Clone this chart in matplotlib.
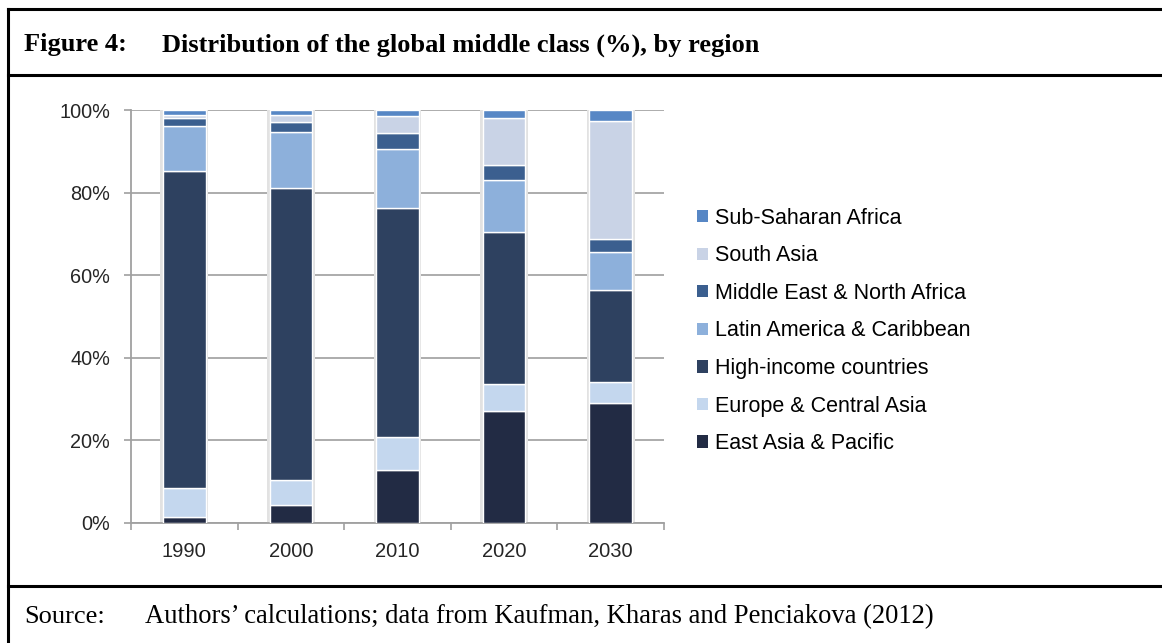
import matplotlib.pyplot as plt
import numpy as np
from matplotlib.lines import Line2D
from matplotlib.patches import Patch

# Data (percent of the global middle class)
YEARS = ["1990", "2000", "2010", "2020", "2030"]
REGIONS = [
    "East Asia & Pacific",
    "Europe & Central Asia",
    "High-income countries",
    "Latin America & Caribbean",
    "Middle East & North Africa",
    "South Asia",
    "Sub-Saharan Africa",
]
EAST_ASIA = [1.4, 4.4, 12.8, 27.1, 29.1]
EUROPE_CA = [7.1, 6.0, 8.1, 6.6, 5.1]
HIGH_INCOME = [76.7, 70.7, 55.3, 36.8, 22.1]
LATIN_AMERICA = [11.0, 13.6, 14.4, 12.6, 9.4]
MENA = [1.9, 2.3, 3.9, 3.7, 3.1]
SOUTH_ASIA = [0.8, 1.8, 4.1, 11.3, 28.5]
SUB_SAHARAN = [1.1, 1.2, 1.4, 1.9, 2.7]

COLORS = ["#222B44", "#C4D7EE", "#2E4160", "#8DB0DB", "#3B5F8F", "#C9D3E6", "#5787C5"]

W, H = 1162, 643
SANS = "Liberation Sans"
SERIF = "Liberation Serif"

series = [EAST_ASIA, EUROPE_CA, HIGH_INCOME, LATIN_AMERICA, MENA, SOUTH_ASIA, SUB_SAHARAN]

fig = plt.figure(figsize=(W / 100, H / 100), dpi=100)
ax = fig.add_axes([131 / W, 1 - 523 / H, 533 / W, 413 / H])

x = np.arange(len(YEARS))
bar_w = 0.40

# faint shadow behind each stacked bar
totals = np.sum(np.array(series), axis=0)
ax.bar(x, totals + 0.6, width=bar_w + 0.05, color="#E2E2E2", zorder=2, linewidth=0)

bottom = np.zeros(len(YEARS))
for vals, color in zip(series, COLORS):
    ax.bar(x, vals, bottom=bottom, width=bar_w, color=color,
           edgecolor="white", linewidth=1.0, zorder=3)
    bottom += np.array(vals)

ax.set_xlim(-0.5, len(YEARS) - 0.5)
ax.set_ylim(0, 100)
ax.set_yticks(np.arange(0, 101, 20))
ax.set_yticklabels([f"{v}%" for v in range(0, 101, 20)], fontfamily=SANS, fontsize=14.3, color="#262626")
ax.set_xticks(x)
ax.set_xticklabels(YEARS, fontfamily=SANS, fontsize=14.5, color="#262626")
ax.set_xticks(np.arange(-0.5, len(YEARS)), minor=True)
ax.tick_params(axis="x", which="major", length=0, pad=14)
ax.tick_params(axis="x", which="minor", length=5, color="#A0A0A0", width=1.2, direction="out")
ax.tick_params(axis="y", length=5, color="#A0A0A0", width=1.2, pad=10)

ax.grid(axis="y", color="#A6A6A6", linewidth=1.3, zorder=1)
ax.set_axisbelow(True)
for side in ["top", "right"]:
    ax.spines[side].set_visible(False)
for side in ["left", "bottom"]:
    ax.spines[side].set_color("#A0A0A0")
    ax.spines[side].set_linewidth(1.3)

# legend, top entry = last stacked series
handles = [Patch(facecolor=c, edgecolor="none") for c in COLORS][::-1]
fig.legend(handles, REGIONS[::-1], loc="center left",
           bbox_to_anchor=(697 / W, 1 - 331 / H), frameon=False,
           prop={"family": SANS, "size": 15.5}, handlelength=0.5, handleheight=0.5,
           handletextpad=0.35, labelspacing=0.77, borderpad=0, borderaxespad=0)

# frame lines of the report figure box
frame_kw = dict(color="black", linewidth=2.2, transform=fig.transFigure)
for yy in (9, 75, 586):
    fig.add_artist(Line2D([8 / W, 1.0], [1 - yy / H, 1 - yy / H], **frame_kw))
fig.add_artist(Line2D([8 / W, 8 / W], [1 - 9 / H, 0], **frame_kw))

fig.text(24 / W, 1 - 45 / H, "Figure 4:", fontfamily=SERIF, fontweight="bold",
         fontsize=19, va="center")
fig.text(162 / W, 1 - 45 / H, "Distribution of the global middle class (%), by region",
         fontfamily=SERIF, fontweight="bold", fontsize=19, va="center")
fig.text(24 / W, 1 - 617 / H, "Source:", fontfamily=SERIF, fontsize=19, va="center")
fig.text(145 / W, 1 - 617 / H,
         "Authors\u2019 calculations; data from Kaufman, Kharas and Penciakova (2012)",
         fontfamily=SERIF, fontsize=19.2, va="center")

fig.savefig("out.png", dpi=100)
